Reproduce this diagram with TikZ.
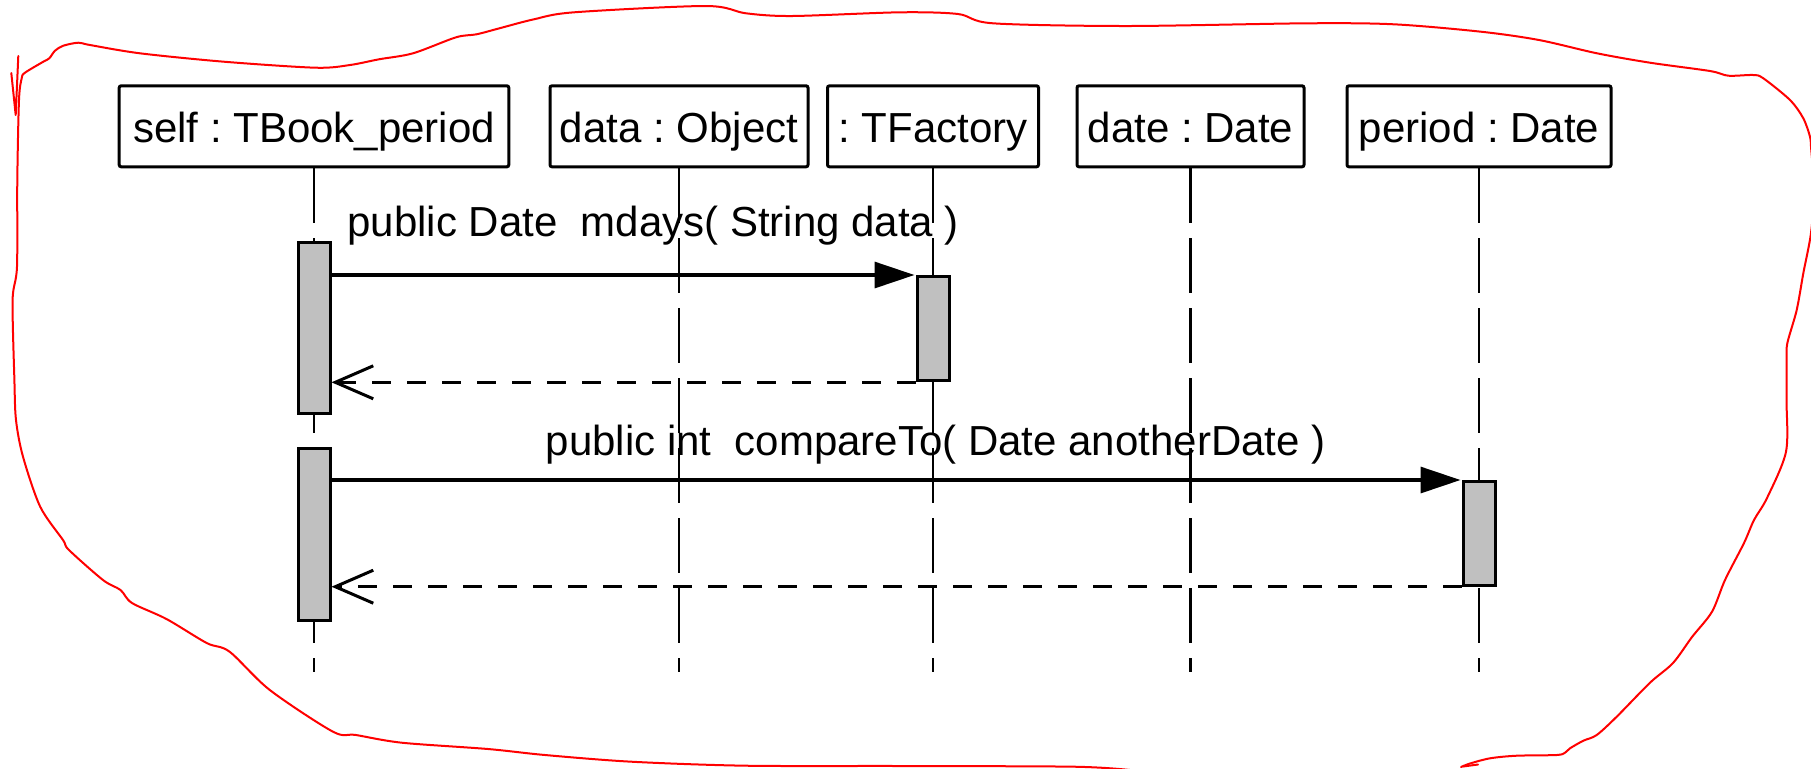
\documentclass[tikz,border=0pt]{standalone}
\usepackage{fontspec}
\setmainfont{Liberation Sans}
\usetikzlibrary{arrows.meta}
\definecolor{actgray}{HTML}{C0C0C0}
\definecolor{penred}{HTML}{FF0000}
\frenchspacing

\begin{document}
\begin{tikzpicture}[x=0.5pt, y=-0.5pt,
  lbl/.style={font=\fontsize{21pt}{25pt}\selectfont, inner sep=0pt},
  objbox/.style={draw, line width=1.5pt, rounded corners=1pt, minimum height=40.5pt,
    inner sep=0pt, text height=20pt, text depth=3.6pt, font=\fontsize{21pt}{25pt}\selectfont},
  lifeline/.style={line width=1.3pt, dash pattern=on 27.5pt off 7.5pt},
  act/.style={draw, fill=actgray, line width=1.5pt, minimum width=16pt, inner sep=0pt},
  call/.style={line width=1.6pt, shorten >=0.5pt, -{Triangle[length=20pt, width=13pt]}},
  reply/.style={line width=1.5pt, dash pattern=on 9.5pt off 8pt,
    -{Straight Barb[length=19pt, width=16.5pt]}},
  pen/.style={penred, line width=1pt, line cap=round, line join=round}]

\useasboundingbox (0,0) rectangle (1811,768);
\clip (0,0) rectangle (1811,768);

% object heads
\node[objbox, minimum width=194.8pt] (self)   at (314,126.3)   {self : TBook\_period};
\node[objbox, minimum width=129pt]   (data)   at (679,126.3)   {data : Object};
\node[objbox, minimum width=105.5pt] (fac)    at (933,126.3)   {: TFactory};
\node[objbox, minimum width=113.5pt] (date)   at (1190.5,126.3) {date : Date};
\node[objbox, minimum width=132pt]   (period) at (1479,126.3)  {period : Date};

% lifeline ends
\coordinate (selfEnd)   at (314,672);
\coordinate (dataEnd)   at (679,672);
\coordinate (facEnd)    at (933,672);
\coordinate (dateEnd)   at (1190.5,672);
\coordinate (periodEnd) at (1479,672);

\draw[lifeline] (self.south)   -- (selfEnd);
\draw[lifeline] (data.south)   -- (dataEnd);
\draw[lifeline] (fac.south)    -- (facEnd);
\draw[lifeline] (date.south)   -- (dateEnd);
\draw[lifeline] (period.south) -- (periodEnd);

% activation bars
\node[act, minimum height=85.75pt] (sa1) at (314,327.75) {};
\node[act, minimum height=52.15pt] (tf)  at (933,328.65) {};
\node[act, minimum height=86pt]    (sa2) at (314,534.2)  {};
\node[act, minimum height=51.85pt] (pa)  at (1479,533.35) {};

% messages
\node[lbl, anchor=base west] (mdaysLbl) at (347,236.7) {public Date\ \ mdays( String data )};
\draw[call]  (sa1.east |- tf.north west) -- (tf.north west);
\draw[reply] (tf.south west) -- (sa1.east |- tf.south west);

\node[lbl, anchor=base west] (cmpLbl) at (545.4,455) {public int\ \ compareTo( Date anotherDate )};
\draw[call]  (sa2.east |- pa.north west) -- (pa.north west);
\draw[reply] (pa.south west) -- (sa2.east |- pa.south west);

% hand-drawn outline
\draw[pen] plot[smooth, tension=0.5] coordinates {
  (1461,767) (1470,763.5) (1490,758.3) (1516.7,755.7) (1556.7,755) (1565,752.7)
  (1570,748.3) (1583.3,740.7) (1596.7,735) (1616.7,716.7) (1650,682.7) (1673,663)
  (1692,637) (1712,611.7) (1725,580) (1744,543) (1754,520) (1767,498) (1786,451.7)
  (1786.5,400) (1786.7,360) (1787.3,343.3) (1796.7,310) (1803.3,273.3) (1811,233)
  (1814,190) (1811,146.7) (1810,136.7) (1803.3,118.3) (1790,100) (1763.3,78.3)
  (1753.3,75) (1728.3,75.7) (1710,71) (1650,62.7) (1597,53.3) (1539,40) (1481,31.7)
  (1394,24.3) (1306.7,23.3) (1126.6,26) (993,23.3) (958,14) (900,12.3) (792,16)
  (746,13.3) (706,6) (574,12.3) (533.9,19.3) (499.4,28.3) (476.5,34.3) (456,37.3)
  (413,53.3) (378.9,59.3) (350,65) (315.7,67.7) (223.9,61.7) (140,53.3) (90,45)
  (78.3,42.7) (63.3,45.7) (55,50.7) (49.3,58.3) (43.3,61.7) (25,72.7) (21.7,78.3)
  (19,100) (17.3,180) (17,266.7) (12.6,300) (14.4,380) (16,420) (23,456.7)
  (40.2,506.7) (63,540) (69,550) (103,580) (120.5,590) (132,603) (166.5,619)
  (206.7,643) (229.6,651.7) (269.8,690) (333,731.7) (356,735) (401.8,742.7)
  (488,749) (545,755) (631.5,761.7) (746,765.7) (900,766) (1074,766.7) (1130,770)};
\draw[pen] (11.3,73) -- (15.7,115) -- (18.3,56);
\draw[pen] (1463,766.5) -- (1478,764.5);
\end{tikzpicture}
\end{document}
